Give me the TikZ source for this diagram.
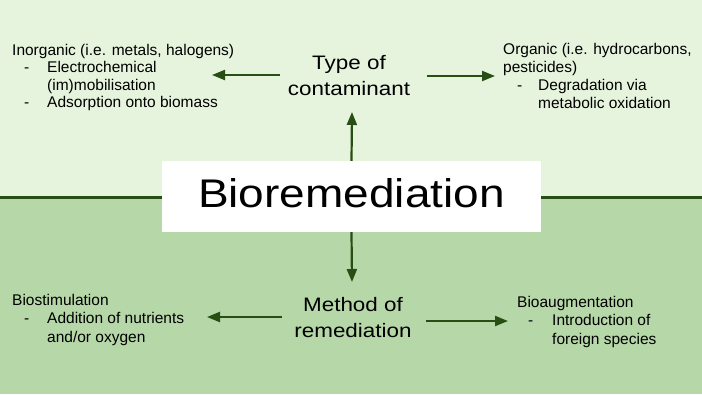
\documentclass[tikz,border=0pt]{standalone}
\usepackage{fontspec}
\setmainfont{Liberation Sans}
\newfontfamily\widefont[FakeStretch=1.15]{Liberation Sans}
\usetikzlibrary{arrows.meta}

\definecolor{topgreen}{HTML}{E6F4DE}
\definecolor{lowgreen}{HTML}{B6D7A8}
\definecolor{darkgreen}{HTML}{274E13}

\newcommand{\dashline}[1]{\makebox[35pt][l]{\hspace{12pt}-}#1}
\newcommand{\moreline}[1]{\makebox[35pt]{}#1}

\begin{document}
\begin{tikzpicture}[x=1pt,y=-1pt,
  flow/.style={draw=darkgreen,line width=2.2pt,-{Triangle[length=13pt,width=10pt]}},
  note/.style={anchor=base west,align=left,inner sep=0pt,
    font=\fontsize{15.5}{18}\selectfont},
  heading/.style={anchor=base,align=center,inner sep=0pt,
    font=\widefont\fontsize{19.5}{26}\selectfont}]
  \useasboundingbox (0,0) rectangle (702,394);
  % two halves
  \fill[topgreen] (0,0) rectangle (702,197);
  \fill[lowgreen] (0,197) rectangle (702,394);
  \draw[darkgreen,line width=3pt] (0,197) -- (702,197);

  % centre
  \node[fill=white,minimum width=379pt,minimum height=71pt,inner sep=0pt,
    text height=21pt,text depth=0pt,
    font=\widefont\fontsize{40}{48}\selectfont] (bio) at (351.5,196.5) {Bioremediation};

  % base anchor sits on the last line
  \node[heading] (type) at (349,95) {Type of\\contaminant};
  \node[heading] (method) at (353,337) {Method of\\remediation};

  % notes
  \node[note,font=\fontsize{15.5}{17.5}\selectfont] (inorg) at (12,107.5) {Inorganic (i.e. metals, halogens)\\
    \dashline{Electrochemical}\\
    \moreline{(im)mobilisation}\\
    \dashline{Adsorption onto biomass}};
  \node[note] (org) at (503,108) {Organic (i.e. hydrocarbons,\\
    pesticides)\\
    \makebox[35pt][l]{\hspace{14pt}-}Degradation via\\
    \moreline{metabolic oxidation}};
  \node[note,font=\fontsize{15.5}{18.5}\selectfont] (stim) at (12,342) {Biostimulation\\
    \dashline{Addition of nutrients}\\
    \moreline{and/or oxygen}};
  \node[note,font=\fontsize{15.5}{18.5}\selectfont] (aug) at (517,344) {Bioaugmentation\\
    \makebox[35pt][l]{\hspace{11pt}-}Introduction of\\
    \moreline{foreign species}};

  % arrow ends
  \coordinate (inorg-tip) at (212,75);
  \coordinate (org-tip) at (495,76);
  \coordinate (stim-tip) at (207,317);
  \coordinate (aug-tip) at (508,321);

  \draw[flow] (280,75) -- (inorg-tip);
  \draw[flow] (427,76) -- (org-tip);
  \draw[flow] (bio.north) -- (352,112);
  \draw[flow] (bio.south) -- (352,282);
  \draw[flow] (282,317) -- (stim-tip);
  \draw[flow] (426,321) -- (aug-tip);
\end{tikzpicture}
\end{document}
